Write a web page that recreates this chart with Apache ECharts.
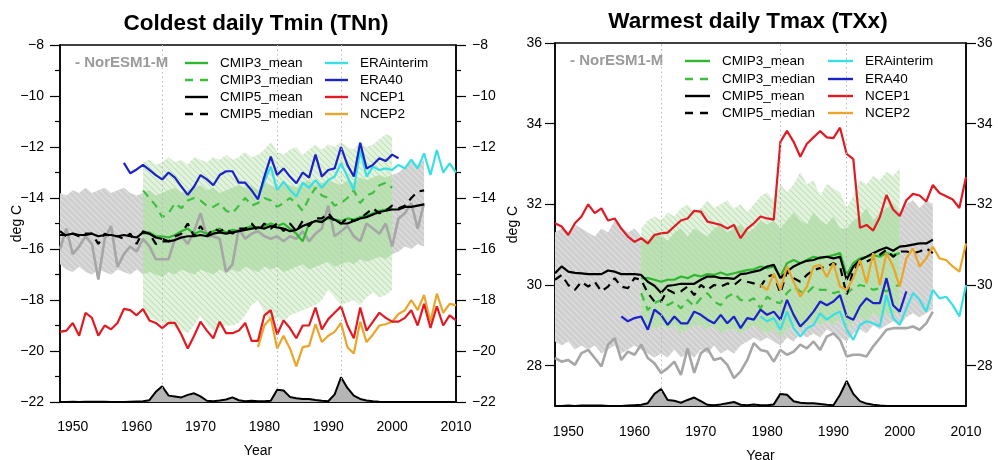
<!DOCTYPE html>
<html><head><meta charset="utf-8">
<script src="https://cdn.jsdelivr.net/npm/echarts@6/dist/echarts.min.js"></script>
<style>html,body{margin:0;padding:0;background:#fff}#c{width:998px;height:460px}</style>
</head><body><div id="c"></div><script>
// ---------- categories / ticks ----------
const years = [1948,1949,1950,1951,1952,1953,1954,1955,1956,1957,1958,1959,1960,1961,1962,1963,1964,1965,1966,1967,1968,1969,1970,1971,1972,1973,1974,1975,1976,1977,1978,1979,1980,1981,1982,1983,1984,1985,1986,1987,1988,1989,1990,1991,1992,1993,1994,1995,1996,1997,1998,1999,2000,2001,2002,2003,2004,2005,2006,2007,2008,2009,2010];
const xTickLabels = [1950,1960,1970,1980,1990,2000,2010];
const txxTickLabels = [28,30,32,34,36];
const volcanoYears = [1964,1982,1992];
const titles = ['Coldest daily Tmin (TNn)', 'Warmest daily Tmax (TXx)'];
const legendNames = ['CMIP3_mean','CMIP3_median','CMIP5_mean','CMIP5_median','ERAinterim','ERA40','NCEP1','NCEP2'];
const modelName = '- NorESM1-M';
// start years of each record
const startModel = 1948, startCmip3 = 1961, startEra40 = 1958, startEraInt = 1979, startNcep1 = 1948, startNcep2 = 1979, startVolc = 1948;

// ---------- TNn (left) ----------
const tnnNorESM = [-16.0,-15.2,-16.2,-15.9,-15.5,-15.8,-17.2,-15.6,-15.1,-16.7,
 -16.2,-15.9,-16.1,-15.6,-15.9,-16.4,-16.4,-16.4,-15.6,-15.5,
 -15.8,-15.3,-14.6,-15.5,-15.5,-15.6,-16.9,-16.6,-15.2,-15.6,
 -15.4,-15.3,-15.5,-15.6,-15.5,-15.7,-15.5,-15.6,-15.3,-15.7,
 -15.4,-15.2,-14.3,-15.5,-15.3,-15.1,-15.5,-15.7,-15.0,-15.2,
 -15.4,-15.0,-15.9,-14.8,-14.6,-14.2,-15.2,-14.2];
const tnnCmip5Mean = [-15.45,-15.45,-15.4,-15.45,-15.45,-15.4,-15.5,-15.45,-15.45,-15.5,-15.45,-15.5,-15.55,
 -15.35,-15.4,-15.55,-15.6,-15.7,-15.65,-15.55,-15.5,-15.5,-15.45,
 -15.5,-15.4,-15.35,-15.4,-15.35,-15.3,-15.25,-15.2,-15.15,-15.2,
 -15.1,-15.15,-15.2,-15.3,-15.25,-15.1,-15.0,-14.9,-14.95,-14.75,
 -14.85,-15.0,-15.0,-14.9,-14.8,-14.75,-14.65,-14.55,-14.5,-14.45,
 -14.45,-14.35,-14.35,-14.3,-14.25];
const tnnCmip5Median = [-15.3,-15.5,-15.4,-15.5,-15.4,-15.4,-15.8,-15.4,-15.5,-15.5,
 -15.6,-15.4,-15.8,-15.3,-15.4,-15.8,-15.7,-15.7,-15.5,-15.4,
 -15.0,-15.5,-15.1,-15.5,-15.2,-15.3,-15.2,-15.4,-15.2,-15.2,
 -15.0,-15.3,-15.0,-15.2,-15.0,-15.3,-15.0,-15.3,-14.9,-15.1,
 -14.8,-14.8,-14.6,-14.9,-15.0,-14.8,-14.9,-14.8,-14.6,-14.4,
 -14.6,-14.5,-14.3,-14.4,-14.3,-14.0,-13.75,-13.7];
const tnnCmip3Mean = [-15.4,-15.35,-15.5,-15.5,-15.55,-15.45,-15.3,-15.2,-15.4,-15.3,
 -15.4,-15.3,-15.2,-15.35,-15.25,-15.3,-15.2,-15.1,-15.2,-15.1,
 -15.0,-15.1,-15.0,-15.2,-15.4,-15.7,-15.0,-14.9,-14.9,-14.8,
 -14.85,-14.9,-14.8,-14.85,-14.75,-14.7,-14.6,-14.5,-14.45,-14.4];
const tnnCmip3Median = [-13.7,-14.0,-14.3,-14.75,-14.6,-14.2,-14.4,-14.1,-14.0,-14.1,
 -14.3,-14.35,-14.2,-14.5,-14.6,-14.3,-14.0,-14.3,-14.2,-14.0,
 -14.1,-14.35,-14.2,-14.0,-14.2,-14.5,-14.0,-13.6,-13.9,-14.0,
 -14.3,-14.2,-14.0,-13.7,-14.2,-13.9,-13.8,-13.5,-13.4,-13.6];
const tnnEra40 = [-12.62,-13.03,-12.88,-12.7,-12.9,-13.1,-13.27,-13.0,-13.2,-13.55,
 -13.88,-13.55,-13.1,-13.27,-13.5,-13.1,-12.95,-12.95,-13.4,-13.4,
 -13.7,-14.05,-13.16,-12.38,-13.1,-12.84,-13.16,-13.42,-13.0,-13.2,
 -12.3,-13.16,-12.9,-12.84,-12.0,-12.7,-13.16,-11.83,-12.84,-12.7,
 -12.44,-12.55,-12.3,-12.44];
const tnnEraInt = [-14.0,-13.36,-12.77,-13.69,-13.36,-13.69,-13.95,-13.4,-13.6,-13.3,
 -13.6,-13.3,-13.16,-12.64,-13.16,-13.69,-12.12,-13.16,-12.77,-12.9,
 -12.84,-12.9,-12.7,-12.84,-12.5,-12.84,-12.25,-13.1,-12.12,-13.0,
 -12.64,-13.0];
const tnnNcep1 = [-19.25,-19.2,-18.9,-19.4,-18.5,-18.7,-19.4,-19.0,-19.15,-18.9,
 -18.35,-18.4,-18.6,-18.35,-18.8,-18.9,-19.1,-18.9,-18.9,-19.35,
 -19.9,-19.4,-18.85,-19.2,-19.5,-18.85,-19.3,-19.3,-19.2,-18.9,
 -19.6,-19.6,-18.6,-18.4,-19.35,-18.8,-19.1,-19.5,-19.0,-19.0,
 -18.3,-19.15,-18.75,-18.5,-18.25,-19.0,-19.5,-18.3,-19.2,-18.85,
 -18.5,-18.7,-18.85,-18.85,-18.7,-18.4,-19.0,-18.15,-19.1,-18.25,
 -19.0,-18.6,-18.8];
const tnnNcep2 = [-19.85,-19.0,-18.7,-19.9,-19.4,-19.9,-20.6,-19.85,-19.8,-18.95,
 -19.65,-19.4,-19.25,-18.9,-19.85,-20.1,-18.85,-19.65,-19.35,-19.0,
 -18.95,-18.85,-18.55,-18.4,-18.0,-18.4,-17.8,-18.85,-17.75,-18.5,
 -18.15,-18.2];
const tnnVolc = [-22.0,-22.0,-21.99,-22.0,-21.99,-21.99,-21.99,-21.99,-22.0,-22.0,-22.0,-21.99,-21.98,
 -21.97,-21.93,-21.6,-21.38,-21.75,-21.78,-21.82,-21.72,-21.66,-21.78,
 -21.95,-21.97,-21.94,-21.9,-21.82,-21.93,-21.97,-21.95,-21.97,-21.97,
 -21.95,-21.52,-21.55,-21.8,-21.85,-21.88,-21.88,-21.92,-21.95,-21.97,
 -21.7,-21.03,-21.45,-21.75,-21.88,-21.94,-21.97,-21.99,-22.0,-22.0,
 -22.0,-22.0,-22.0,-22.0,-22.0,-22.0,-22.0,-22.0,-22.0,-22.0];
const tnnCmip5Hi = [-13.8,-13.9,-13.7,-13.8,-13.6,-13.8,-13.7,-13.6,-13.8,-13.7,-13.6,-13.8,-13.9,
 -13.8,-13.7,-13.9,-13.8,-13.7,-13.6,-13.8,-13.7,-13.6,-13.5,
 -13.7,-13.6,-13.8,-13.7,-13.6,-13.5,-13.6,-13.5,-13.7,-13.4,
 -13.5,-13.6,-13.4,-13.5,-13.6,-13.4,-13.3,-13.5,-13.4,-13.3,
 -13.4,-13.5,-13.3,-13.4,-13.2,-13.3,-13.2,-13.1,-13.2,-13.1,
 -13.0,-12.8,-12.6,-12.7,-12.5];
const tnnCmip5Lo = [-16.6,-16.8,-16.9,-16.7,-16.9,-17.0,-16.8,-16.9,-17.0,-16.8,-16.9,-17.0,-16.8,
 -17.0,-16.9,-17.0,-17.1,-16.9,-17.0,-16.8,-16.9,-17.0,-16.8,
 -16.9,-17.0,-16.8,-16.9,-16.8,-16.9,-16.7,-16.8,-16.9,-16.7,
 -16.8,-16.7,-16.9,-16.8,-16.7,-16.6,-16.8,-16.7,-16.6,-16.5,
 -16.7,-16.6,-16.5,-16.6,-16.4,-16.5,-16.4,-16.3,-16.4,-16.2,
 -16.1,-15.9,-16.0,-15.8,-15.9];
const tnnCmip3Hi = [-12.6,-12.5,-12.7,-12.6,-12.4,-12.6,-12.5,-12.7,-12.4,-12.5,
 -12.6,-12.4,-12.5,-12.3,-12.5,-12.4,-12.2,-12.4,-12.3,-12.1,
 -11.8,-12.2,-12.3,-12.1,-12.0,-12.3,-12.1,-11.9,-12.1,-11.9,
 -12.0,-11.8,-12.0,-12.1,-11.8,-12.0,-11.9,-11.7,-11.5,-11.6];
const tnnCmip3Lo = [-18.5,-18.7,-18.8,-18.9,-19.0,-19.1,-19.2,-19.3,-19.0,-18.6,
 -19.0,-19.2,-19.1,-19.0,-19.0,-18.9,-18.6,-18.2,-18.0,-18.5,
 -18.8,-18.7,-18.9,-18.6,-18.5,-18.4,-18.3,-18.2,-18.0,-17.6,
 -17.9,-18.2,-18.1,-18.0,-18.2,-17.9,-17.7,-17.9,-17.8,-17.6];

// ---------- TXx (right) ----------
const txxNorESM = [28.19,28.1,28.14,28.02,28.31,28.39,28.19,27.98,28.52,28.68,
 28.14,28.35,28.27,28.52,28.19,28.06,27.82,27.94,28.1,27.77,
 28.43,27.82,28.31,28.43,28.14,28.19,28.02,27.69,27.86,28.14,
 28.56,28.39,28.35,28.1,28.39,28.27,28.35,28.52,28.43,28.6,
 28.39,28.72,28.8,28.64,28.23,28.27,28.27,28.23,28.48,28.68,
 28.89,28.93,28.93,28.93,28.97,28.89,29.05,29.34];
const txxCmip5Mean = [30.29,30.46,30.33,30.3,30.29,30.27,30.27,30.27,30.36,30.33,
 30.27,30.27,30.27,30.25,30.08,29.98,29.81,29.98,30.0,30.03,
 30.03,30.03,30.13,30.21,30.21,30.17,30.17,30.15,30.27,30.29,
 30.33,30.37,30.46,30.5,30.17,30.33,30.46,30.54,30.6,30.62,
 30.68,30.7,30.66,30.7,30.13,30.46,30.62,30.7,30.79,30.87,
 30.93,30.85,30.95,30.97,31.0,31.03,31.03,31.12];
const txxCmip5Median = [30.13,30.25,30.0,29.88,30.08,29.96,30.08,29.84,29.96,30.17,
 29.96,29.92,30.17,30.13,29.8,29.59,29.59,29.88,29.8,29.84,
 29.96,29.75,30.0,29.88,30.0,29.96,30.04,30.0,30.13,30.08,
 30.04,29.96,30.21,30.25,29.8,30.33,30.17,30.08,30.25,30.37,
 30.42,30.46,30.54,30.46,29.75,30.37,30.54,30.58,30.66,30.75,
 30.87,30.7,30.83,30.83,30.79,30.83,30.91,30.79];
const txxCmip3Mean = [30.17,30.17,30.13,30.08,30.13,30.13,30.21,30.17,30.25,30.21,
 30.27,30.25,30.31,30.25,30.29,30.33,30.37,30.39,30.46,30.42,
 30.46,30.21,30.54,30.62,30.54,30.62,30.7,30.66,30.7,30.74,
 30.79,30.25,30.54,30.66,30.7,30.74,30.7,30.79,30.74,30.79];
const txxCmip3Median = [29.8,29.38,29.55,29.63,29.5,29.59,29.42,29.63,29.47,29.67,
 29.8,29.59,29.5,29.71,29.8,29.63,29.59,29.67,29.42,29.71,
 29.59,29.55,29.8,29.96,29.84,29.8,29.96,29.88,29.88,29.8,
 29.84,29.8,29.92,30.0,29.96,29.88,29.92,29.84,29.96,30.0];
const txxEra40 = [29.22,29.1,29.18,29.22,28.89,29.39,29.26,29.01,29.22,29.05,
 29.05,29.34,29.26,29.14,29.05,29.26,29.05,29.22,28.93,29.18,
 29.14,29.39,29.26,29.34,29.14,29.63,29.26,28.97,29.14,29.34,
 29.59,29.5,29.59,29.75,29.22,29.14,29.47,29.67,29.55,29.55,
 30.17,29.5,29.34,29.84];
const txxEraInt = [29.22,29.1,29.18,28.89,29.34,28.93,28.72,28.93,29.01,29.3,
 29.14,29.26,29.34,28.89,28.64,29.01,29.1,29.05,28.97,29.75,
 29.18,29.01,29.42,29.8,29.63,29.34,29.88,29.67,29.71,29.5,
 29.22,30.0];
const txxNcep1 = [31.53,31.45,31.24,31.53,31.7,32.0,31.78,31.9,31.6,31.65,
 31.4,31.2,31.07,31.16,31.03,31.24,31.28,31.3,31.45,31.6,
 31.65,31.84,31.82,31.57,31.53,31.49,31.4,31.49,31.16,31.4,
 31.53,31.7,31.65,31.62,33.55,33.82,33.55,33.18,33.5,33.66,
 33.82,33.66,33.64,33.9,33.25,33.12,31.42,31.49,31.35,31.68,
 32.23,31.87,31.71,32.1,32.26,32.22,32.07,32.48,32.28,32.2,
 32.12,31.91,32.68];
const txxNcep2 = [30.0,29.88,30.29,29.88,30.46,30.08,29.71,29.96,30.46,30.5,
 30.2,30.54,29.96,29.88,30.17,30.62,30.04,30.79,30.0,30.79,
 30.46,29.96,30.66,30.91,30.46,30.66,30.95,30.66,30.62,30.46,
 30.33,31.03];
const txxVolc = [27.0,27.0,27.01,27.0,27.01,27.01,27.01,27.01,27.0,27.0,27.0,27.01,27.02,
 27.03,27.07,27.3,27.42,27.15,27.13,27.08,27.15,27.21,27.12,
 27.03,27.02,27.04,27.07,27.1,27.03,27.02,27.04,27.02,27.02,
 27.04,27.3,27.28,27.12,27.08,27.07,27.07,27.05,27.03,27.02,
 27.28,27.62,27.3,27.12,27.06,27.03,27.01,27.0,27.0,27.0,
 27.0,27.0,27.0,27.0,27.0,27.0,27.0,27.0,27.0,27.0];
const txxCmip5Hi = [31.3,31.4,31.3,31.5,31.4,31.3,31.2,31.4,31.3,31.6,31.4,31.3,31.4,
 31.2,31.1,31.3,31.2,31.1,31.3,31.4,31.2,31.4,31.3,
 31.2,31.4,31.5,31.3,31.4,31.5,31.3,31.4,31.6,31.5,
 31.6,31.4,31.6,31.8,31.6,31.5,31.8,31.6,31.5,31.7,
 31.4,31.4,31.6,31.7,31.9,31.6,31.8,31.9,32.0,31.8,
 32.0,32.1,31.9,32.1,32.0];
const txxCmip5Lo = [28.6,28.5,28.6,28.4,28.5,28.4,28.5,28.3,28.4,28.5,28.3,28.4,28.5,
 28.4,28.3,28.2,28.3,28.2,28.4,28.2,28.3,28.2,28.4,
 28.3,28.5,28.3,28.4,28.3,28.5,28.6,28.7,28.6,28.7,
 28.6,28.5,28.7,28.6,28.8,28.7,28.8,28.7,28.9,28.8,
 28.7,28.6,28.8,28.9,28.8,29.0,28.9,29.0,29.1,29.0,
 29.2,29.3,29.2,29.3,29.4];
const txxCmip3Hi = [31.4,31.6,31.7,31.6,31.8,31.7,31.9,32.0,31.8,31.9,
 32.1,31.9,32.0,32.1,31.9,32.0,31.8,32.0,32.2,32.3,
 32.1,32.5,32.3,32.5,32.8,32.5,32.6,32.2,32.5,32.4,
 32.3,31.9,32.2,32.6,32.5,32.7,32.6,32.8,32.7,32.9];
const txxCmip3Lo = [29.2,29.0,28.9,29.0,28.9,29.0,28.8,28.9,29.0,29.0,
 28.9,29.0,28.8,28.9,28.9,28.8,28.9,29.0,28.9,28.8,
 28.9,28.7,28.9,29.0,28.9,29.0,29.1,29.0,29.1,29.0,
 29.2,28.9,29.1,29.2,29.1,29.3,29.2,29.3,29.3,29.3];

// ---------- styling ----------
const FONT = 'Liberation Sans, Arial, Helvetica, sans-serif';
const C = {model:'#a6a6a6', cmip3:'#2fb82f', cmip3md:'#3fbf3f', cmip5:'#000000', eraint:'#38e0e6', era40:'#1b22c8', ncep1:'#e01b24', ncep2:'#eba52a'};
const legendColors = [C.cmip3, C.cmip3md, C.cmip5, C.cmip5, C.eraint, C.era40, C.ncep1, C.ncep2];
const legendDashed = [false,true,false,true,false,false,false,false];

function hatch(bg, fg) {
  const c = document.createElement('canvas'); c.width = 6; c.height = 6;
  const g = c.getContext('2d'); g.fillStyle = bg; g.fillRect(0,0,6,6);
  g.strokeStyle = fg; g.lineWidth = 1.2; g.beginPath();
  g.moveTo(0,0); g.lineTo(6,6); g.moveTo(5,-1); g.lineTo(7,1); g.moveTo(-1,5); g.lineTo(1,7);
  g.stroke();
  return {image: c, repeat: 'repeat'};
}
const fillGray = hatch('#cfcfcf', '#e0e0e0');
const fillGreen = hatch('#e4f3df', '#c1e3b8');
const fillOverlap = hatch('#bce1b4', '#b3dcaa');

function pairs(start, vals) { const i0 = years.indexOf(start); return vals.map((v, i) => [years[i0 + i], v]); }

function band(xi, yi, start, lo, hi, fill) {
  const i0 = years.indexOf(start);
  const data = lo.map((v, i) => [years[i0 + i], v, hi[i]]);
  return {
    type: 'custom', xAxisIndex: xi, yAxisIndex: yi, silent: true, z: 1,
    data, encode: {x: 0, y: [1, 2]},
    renderItem: (params, api) => {
      if (params.dataIndex !== 0) return null;
      const top = data.map(d => api.coord([d[0], d[2]]));
      const bot = data.map(d => api.coord([d[0], d[1]])).reverse();
      return {type: 'polygon', shape: {points: top.concat(bot)}, style: {fill: fill, stroke: null}};
    }
  };
}
// overlap of two ranges, built from the arrays above
function overlap(startA, loA, hiA, startB, loB, hiB) {
  const off = years.indexOf(startB) - years.indexOf(startA);
  return {lo: loB.map((v, i) => Math.max(v, loA[i + off])), hi: hiB.map((v, i) => Math.min(v, hiA[i + off]))};
}
function line(xi, yi, start, vals, color, dashed, width) {
  return {type: 'line', xAxisIndex: xi, yAxisIndex: yi, data: pairs(start, vals), showSymbol: false, symbol: 'none', z: 3,
    lineStyle: {color, width: width || 2.2, type: dashed ? [8, 6] : 'solid'}, silent: true};
}
function volc(xi, yi, vals) {
  return {type: 'line', xAxisIndex: xi, yAxisIndex: yi, data: pairs(startVolc, vals), showSymbol: false, symbol: 'none', z: 2,
    lineStyle: {color: '#000', width: 2}, areaStyle: {color: '#b5b5b5', origin: 'start', opacity: 1}, silent: true,
    markLine: {silent: true, symbol: ['none', 'none'], label: {show: false},
      lineStyle: {type: [1.5, 3], color: '#b8b8b8', width: 1}, data: volcanoYears.map(y => ({xAxis: y}))}};
}
function panelSeries(xi, yi, d) {
  const ov = overlap(startModel, d.c5lo, d.c5hi, startCmip3, d.c3lo, d.c3hi);
  return [
    band(xi, yi, startModel, d.c5lo, d.c5hi, fillGray),
    band(xi, yi, startCmip3, d.c3lo, d.c3hi, fillGreen),
    band(xi, yi, startCmip3, ov.lo, ov.hi, fillOverlap),
    volc(xi, yi, d.volc),
    line(xi, yi, startModel, d.model, C.model, false, 2.6),
    line(xi, yi, startCmip3, d.c3mean, C.cmip3),
    line(xi, yi, startCmip3, d.c3median, C.cmip3md, true),
    line(xi, yi, startModel, d.c5mean, C.cmip5),
    line(xi, yi, startModel, d.c5median, C.cmip5, true),
    line(xi, yi, startEraInt, d.eraint, C.eraint),
    line(xi, yi, startEra40, d.era40, C.era40),
    line(xi, yi, startNcep2, d.ncep2, C.ncep2),
    line(xi, yi, startNcep1, d.ncep1, C.ncep1)
  ];
}

const grids = [
  {left: 60, top: 45, width: 396, height: 357},
  {left: 555, top: 43, width: 411, height: 363}
];
const axisLine = {show: true, lineStyle: {color: '#000', width: 1.5}};
const labelStyle = {color: '#000', fontSize: 14, fontFamily: FONT};
const minusFmt = v => String(v).replace('-', '\u2212');

function xAx(gi, margin, gap) {
  return {type: 'value', gridIndex: gi, min: 1948, max: 2010, axisLine, splitLine: {show: false},
    axisTick: {show: false}, axisLabel: Object.assign({customValues: xTickLabels, margin, formatter: v => String(v)}, labelStyle),
    name: 'Year', nameLocation: 'middle', nameGap: gap, nameMoveOverlap: false, nameTextStyle: {color: '#000', fontSize: 14, fontFamily: FONT}};
}
function yAxTnn(pos, withName) {
  return {type: 'value', gridIndex: 0, position: pos, min: -22, max: -8, interval: 2, axisLine, splitLine: {show: false},
    axisTick: {show: true, length: 10, lineStyle: {color: '#000', width: 1.2}},
    minorTick: {show: true, splitNumber: 2, length: 5, lineStyle: {color: '#000', width: 1.2}},
    minorSplitLine: {show: false},
    axisLabel: Object.assign({margin: 16, formatter: minusFmt}, labelStyle),
    name: withName ? 'deg C' : '', nameLocation: 'middle', nameGap: 36, nameRotate: 90, nameMoveOverlap: false,
    nameTextStyle: {color: '#000', fontSize: 14, fontFamily: FONT}};
}
function yAxTxx(pos, withName, margin) {
  return {type: 'value', gridIndex: 1, position: pos, min: 27, max: 36, axisLine, splitLine: {show: false},
    axisTick: {show: true, length: 10, customValues: txxTickLabels, lineStyle: {color: '#000', width: 1.2}},
    axisLabel: Object.assign({margin, customValues: txxTickLabels}, labelStyle),
    name: withName ? 'deg C' : '', nameLocation: 'middle', nameGap: 35, nameRotate: 90,
    nameTextStyle: {color: '#000', fontSize: 14, fontFamily: FONT}};
}

function legendGraphic(p) {
  const els = [];
  els.push({type: 'text', x: p.mx, y: p.rows[0], style: {text: modelName, fill: '#9a9a9a', fontSize: 15, fontWeight: 'bold', fontFamily: FONT, verticalAlign: 'middle', align: 'left'}});
  legendNames.forEach((n, i) => {
    const col = i < 4 ? 0 : 1, row = i % 4;
    const x1 = p.cols[col], y = p.rows[row];
    els.push({type: 'line', shape: {x1, y1: y, x2: x1 + p.len, y2: y},
      style: {stroke: legendColors[i], lineWidth: 2.4, lineDash: legendDashed[i] ? [8, 7] : null}});
    els.push({type: 'text', x: p.tx[col], y, style: {text: n, fill: '#000', fontSize: 13.5, fontFamily: FONT, verticalAlign: 'middle', align: 'left'}});
  });
  return els;
}

const chart = echarts.init(document.getElementById('c'), null, {renderer: 'canvas'});
chart.setOption({
  animation: false,
  backgroundColor: '#fff',
  grid: grids.map(g => Object.assign({show: true, borderColor: '#000', borderWidth: 1.5, backgroundColor: 'transparent',
    containLabel: false, outerBoundsMode: 'none'}, g)),
  xAxis: [xAx(0, 18, 42), xAx(1, 19, 43)],
  yAxis: [yAxTnn('left', true), yAxTnn('right', false), yAxTxx('left', true, 13), yAxTxx('right', false, 11)],
  series: [].concat(
    panelSeries(0, 0, {c5lo: tnnCmip5Lo, c5hi: tnnCmip5Hi, c3lo: tnnCmip3Lo, c3hi: tnnCmip3Hi, volc: tnnVolc, model: tnnNorESM,
      c3mean: tnnCmip3Mean, c3median: tnnCmip3Median, c5mean: tnnCmip5Mean, c5median: tnnCmip5Median,
      eraint: tnnEraInt, era40: tnnEra40, ncep1: tnnNcep1, ncep2: tnnNcep2}),
    panelSeries(1, 2, {c5lo: txxCmip5Lo, c5hi: txxCmip5Hi, c3lo: txxCmip3Lo, c3hi: txxCmip3Hi, volc: txxVolc, model: txxNorESM,
      c3mean: txxCmip3Mean, c3median: txxCmip3Median, c5mean: txxCmip5Mean, c5median: txxCmip5Median,
      eraint: txxEraInt, era40: txxEra40, ncep1: txxNcep1, ncep2: txxNcep2})
  ),
  graphic: [
    {type: 'text', x: 256, y: 24, style: {text: titles[0], fill: '#000', fontSize: 22.5, fontWeight: 'bold', fontFamily: FONT, align: 'center', verticalAlign: 'middle'}},
    {type: 'text', x: 748, y: 22, style: {text: titles[1], fill: '#000', fontSize: 22.5, fontWeight: 'bold', fontFamily: FONT, align: 'center', verticalAlign: 'middle'}}
  ].concat(
    legendGraphic({mx: 75, rows: [63, 80, 97, 114], cols: [185, 325], len: 23, tx: [220, 360]}),
    legendGraphic({mx: 570, rows: [61, 79, 96, 113], cols: [685, 828], len: 25, tx: [722, 865]})
  )
});
</script></body></html>
